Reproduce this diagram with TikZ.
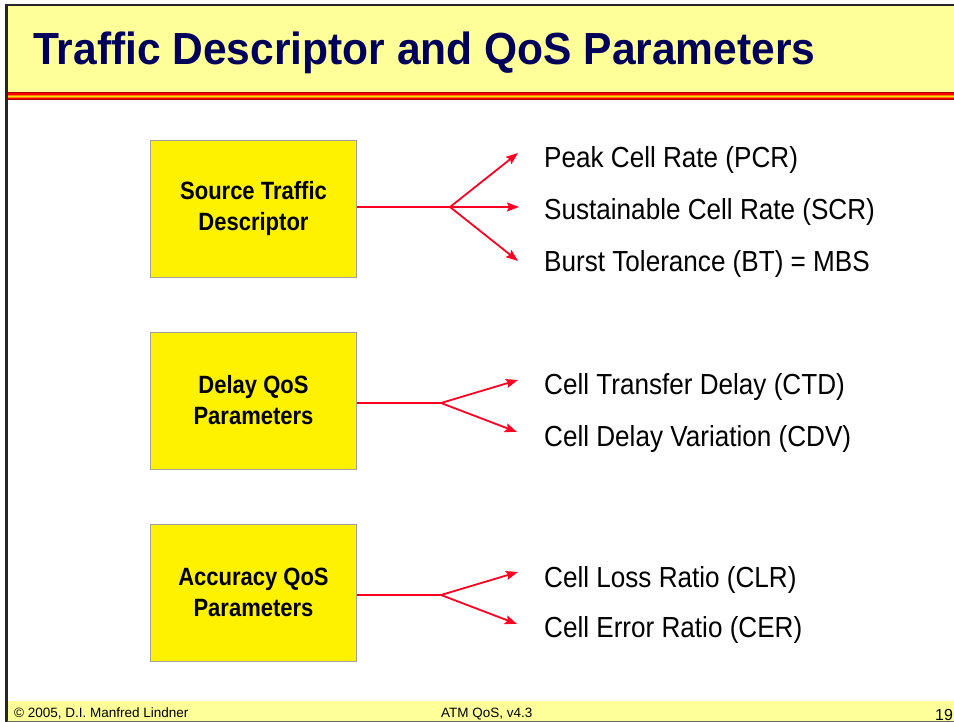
\documentclass[tikz,border=0pt]{standalone}
\usepackage{fontspec}
\setmainfont{Liberation Sans}
\newfontfamily\titlefont{Liberation Sans}[FakeStretch=0.945]
\newfontfamily\labelfont{Liberation Sans}[FakeStretch=0.9]
\newfontfamily\boxfont{Liberation Sans}[FakeStretch=0.88]
\usetikzlibrary{arrows.meta,calc}
\definecolor{headyellow}{HTML}{FFFF99}
\definecolor{titlenavy}{HTML}{00005A}
\definecolor{boxgray}{HTML}{A0A0A0}
\definecolor{arrowred}{HTML}{FF0022}

\begin{document}
\begin{tikzpicture}[x=1pt,y=-1pt,
   paramblock/.style={
       draw=boxgray, line width=0.8pt, fill=yellow,
       minimum width=206pt, minimum height=137pt,
       align=center, inner sep=0pt,
       font=\boxfont\bfseries\fontsize{25}{31}\selectfont
     },
   paramlabel/.style={
       anchor=base west, inner sep=0pt,
       font=\labelfont\fontsize{29}{33}\selectfont
     },
   branch/.style={draw=arrowred, line width=1.8pt},
   branch arrow/.style={branch, -{Stealth[length=12pt,width=9pt,inset=2pt]}}
  ]
  \useasboundingbox (0,0) rectangle (954,722);
  % header and footer
  \fill [headyellow] (5,4) rectangle (954,92);
  \fill [red!70!black] (5,92) rectangle (954,93.5);
  \fill [red] (5,93.5) rectangle (954,95);
  \fill [orange] (5,95) rectangle (954,96);
  \fill [yellow!80!orange] (5,96) rectangle (954,97);
  \fill [orange] (5,97) rectangle (954,98);
  \fill [red] (5,98) rectangle (954,99);
  \fill [red!70!black] (5,99) rectangle (954,100.5);
  \fill [headyellow] (5,701) rectangle (954,722);
  \draw [line width=2.5pt, black!85] (954,5) -- (6.5,5) -- (6.5,722);
  \draw [line width=1pt, black!60] (6.5,721.5) -- (954,721.5);
  \node [anchor=base west, inner sep=0pt, text=titlenavy,
         font=\titlefont\bfseries\fontsize{45}{50}\selectfont] (title) at (33,65)
     {Traffic Descriptor and QoS Parameters};
  \node [anchor=base west, inner sep=0pt, font=\fontsize{13.5}{15}\selectfont] (author) at (14,717)
     {\textcopyright{} 2005, D.I. Manfred Lindner};
  \node [anchor=base west, inner sep=0pt, font=\fontsize{13.5}{15}\selectfont] (course) at (441,717)
     {ATM QoS, v4.3};
  \node [anchor=base west, inner sep=0pt, font=\fontsize{16}{18}\selectfont] (page) at (935,720)
     {19};

  % source traffic descriptor
  \node [paramblock] (std) at (253.5,208.5) {Source Traffic\\Descriptor};
  \coordinate (std-fork) at (450,207);
  \coordinate (pcr-tip) at (518,153);
  \coordinate (scr-tip) at (519,207);
  \coordinate (bt-tip) at (518,261);
  \node [paramlabel] (pcr) at (544,168) {Peak Cell Rate (PCR)};
  \node [paramlabel] (scr) at (544,220) {Sustainable Cell Rate (SCR)};
  \node [paramlabel] (bt) at (544,272) {Burst Tolerance (BT) = MBS};
  \draw [branch] (std.east |- std-fork) -- (std-fork);
  \draw [branch arrow] (std-fork) -- (pcr-tip);
  \draw [branch arrow] (std-fork) -- (scr-tip);
  \draw [branch arrow] (std-fork) -- (bt-tip);

  % delay parameters
  \node [paramblock] (dly) at (253.5,400.5) {Delay QoS\\Parameters};
  \coordinate (dly-fork) at (441,403);
  \coordinate (ctd-tip) at (518,380);
  \coordinate (cdv-tip) at (517,432);
  \node [paramlabel] (ctd) at (544,394) {Cell Transfer Delay (CTD)};
  \node [paramlabel] (cdv) at (544,446) {Cell Delay Variation (CDV)};
  \draw [branch] (dly.east |- dly-fork) -- (dly-fork);
  \draw [branch arrow] (dly-fork) -- (ctd-tip);
  \draw [branch arrow] (dly-fork) -- (cdv-tip);

  % accuracy parameters
  \node [paramblock] (acc) at (253.5,592.5) {Accuracy QoS\\Parameters};
  \coordinate (acc-fork) at (441,595);
  \coordinate (clr-tip) at (518,572);
  \coordinate (cer-tip) at (517,624);
  \node [paramlabel] (clr) at (544,587) {Cell Loss Ratio (CLR)};
  \node [paramlabel] (cer) at (544,637) {Cell Error Ratio (CER)};
  \draw [branch] (acc.east |- acc-fork) -- (acc-fork);
  \draw [branch arrow] (acc-fork) -- (clr-tip);
  \draw [branch arrow] (acc-fork) -- (cer-tip);
\end{tikzpicture}
\end{document}
